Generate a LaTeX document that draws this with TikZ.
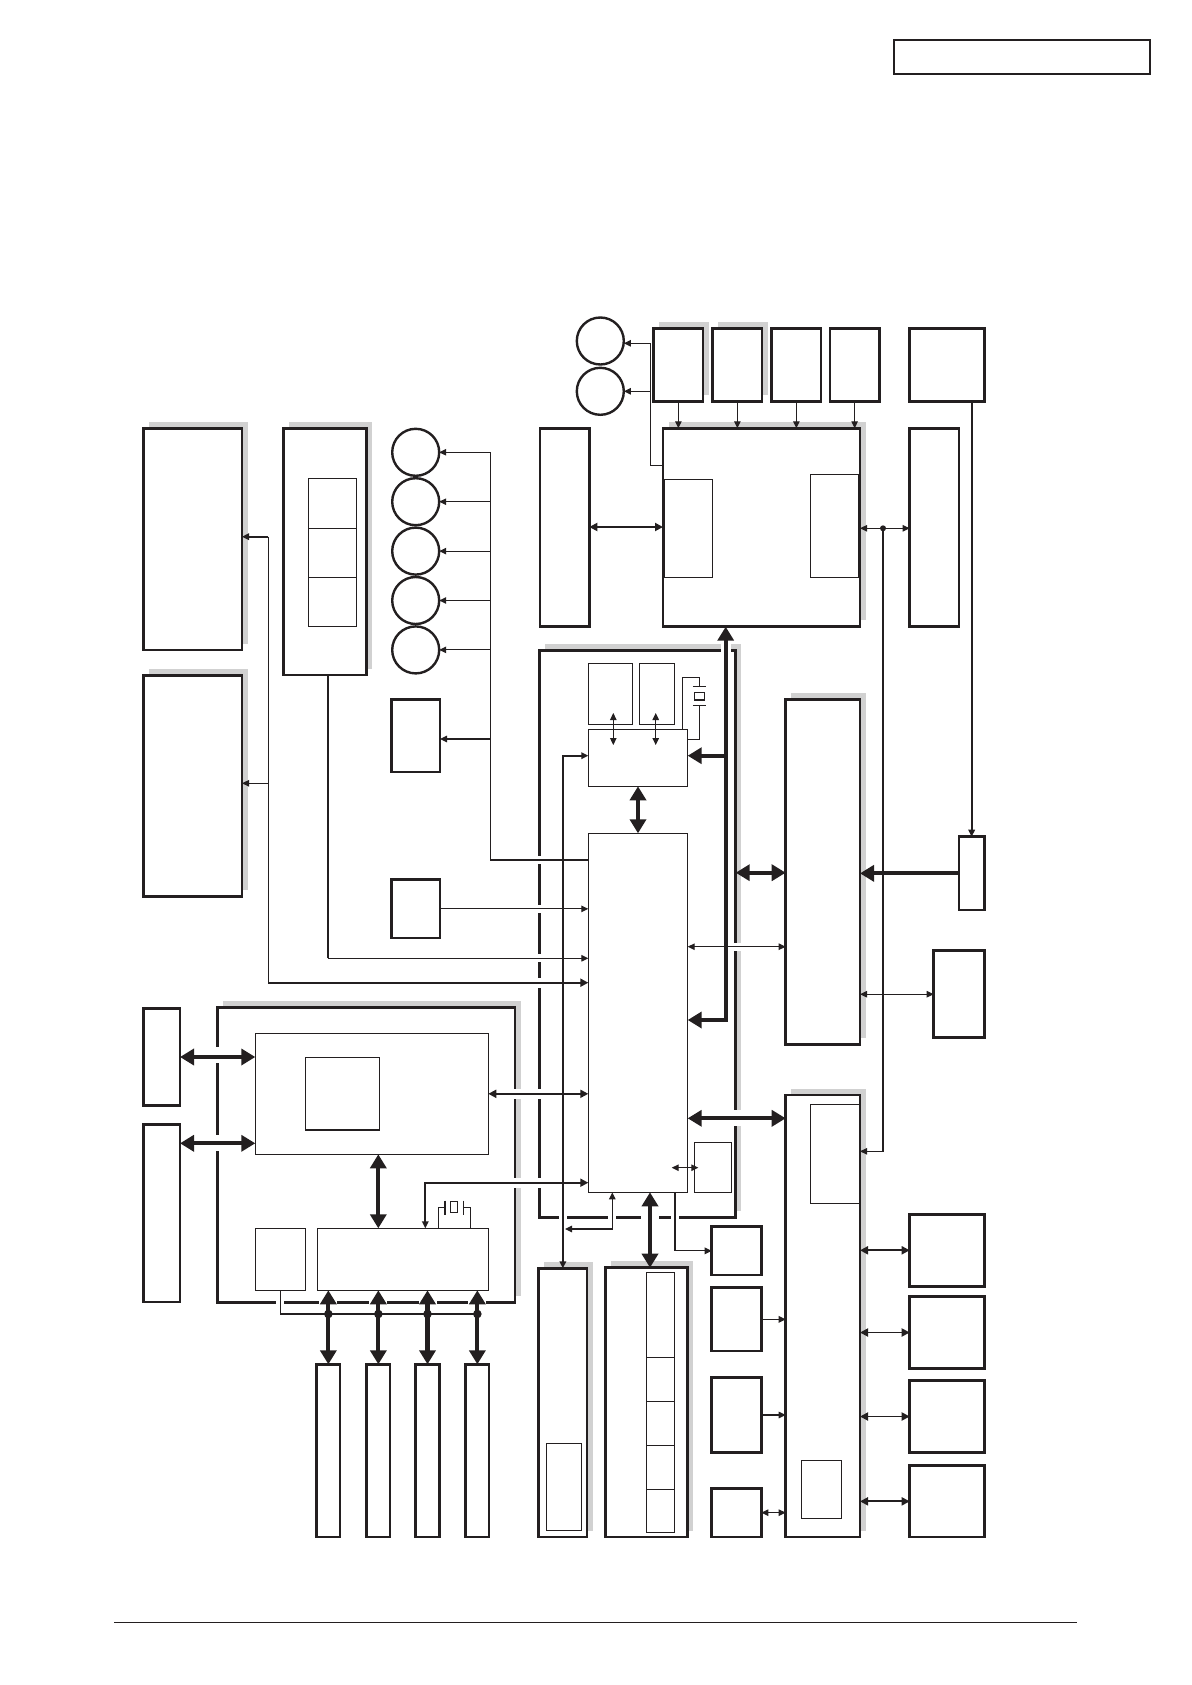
\documentclass[tikz,border=0pt]{standalone}
\usetikzlibrary{arrows.meta}
\definecolor{ink}{HTML}{231F20}
\definecolor{shd}{HTML}{D1D1D1}
\tikzset{
 Ash/.tip={Triangle[length=7pt,width=6.5pt]},
 Amd/.tip={Triangle[length=8pt,width=8pt]},
 Abg/.tip={Triangle[length=14pt,width=16pt]},
 bbox/.style={draw=ink,line width=2.6pt,fill=white,rectangle,inner sep=0pt,outer sep=0pt},
 ibox/.style={draw=ink,line width=1.1pt,fill=white,rectangle,inner sep=0pt,outer sep=0pt},
 cir/.style={draw=ink,line width=2.4pt,fill=white,circle,inner sep=0pt,outer sep=0pt,minimum size=47pt},
 wthin/.style={draw=ink,line width=1.1pt},
 wmed/.style={draw=ink,line width=1.9pt},
 wbig/.style={draw=ink,line width=4.2pt},
}
\newcommand\bx[7][]{\node[#2,#1,minimum width={#6-#4},minimum height={#7-#5}] (#3) at ({(#4+#6)/2},{(#5+#7)/2}) {};}
\newcommand\mkshadow[4]{\fill[shd] ({#1+5.5},{#2-6.5}) rectangle ({#3+5.5},{#4-6.5});}
\newcommand\gp[4]{\fill[white] (#1,#2) rectangle (#3,#4);}
\begin{document}
\begin{tikzpicture}[x=1pt,y=-1pt]
\useasboundingbox (0,0) rectangle (1191,1685);
% header and footer
\bx[line width=1.5pt]{bbox}{hdr}{894}{40}{1150}{74}
\draw[ink,line width=1.2pt] (114,1622.7) -- (1077,1622.7);
% shadows
\mkshadow{143.7}{428.3}{242}{650}
\mkshadow{143.7}{675.7}{242}{896.7}
\mkshadow{283.7}{428.3}{366.3}{675}
\mkshadow{653.7}{328.7}{703}{401.7}
\mkshadow{712.7}{328.7}{762}{401.7}
\mkshadow{663}{428.3}{860}{626.7}
\mkshadow{539.3}{650.7}{735.7}{1217.7}
\mkshadow{785.7}{699.3}{860}{1044.3}
\mkshadow{785.7}{1095}{860}{1537}
\mkshadow{538.7}{1268.3}{587}{1537}
\mkshadow{605.7}{1267.7}{687.7}{1537}
\mkshadow{217.7}{1007.7}{515}{1302.7}
% outer boxes
\bx{bbox}{L1}{143.7}{428.3}{242}{650}
\bx{bbox}{L2}{143.7}{675.7}{242}{896.7}
\bx{bbox}{L3}{283.7}{428.3}{366.3}{675}
\bx{bbox}{p4}{391.7}{699.3}{440}{772}
\bx{bbox}{p5}{391.7}{879.7}{440}{938}
\bx{bbox}{tA}{653.7}{328.7}{703}{401.7}
\bx{bbox}{tB}{712.7}{328.7}{762}{401.7}
\bx{bbox}{tC}{771.7}{328.7}{821}{401.7}
\bx{bbox}{tD}{830}{328.7}{879.3}{401.7}
\bx{bbox}{tE}{909.7}{328.7}{984.3}{401.7}
\bx{bbox}{big}{663}{428.3}{860}{626.7}
\bx{bbox}{lb}{540}{428.3}{589.3}{626.7}
\bx{bbox}{rb}{909.7}{428.3}{959}{626.7}
\bx{bbox}{C}{539.3}{650.7}{735.7}{1217.7}
\bx{bbox}{I}{785.7}{699.3}{860}{1044.3}
\bx{bbox}{J}{959}{836.7}{984.3}{910}
\bx{bbox}{Kb}{933.7}{950.7}{984.3}{1037.7}
\bx{bbox}{L}{785.7}{1095}{860}{1537}
\bx{bbox}{Z1}{909.7}{1214.3}{984.3}{1286.3}
\bx{bbox}{Z2}{909.7}{1296.7}{984.3}{1368.3}
\bx{bbox}{Z3}{909.7}{1380.7}{984.3}{1452.3}
\bx{bbox}{Z4}{909.7}{1465.7}{984.3}{1537}
\bx{bbox}{V}{711.7}{1226.7}{761.3}{1275}
\bx{bbox}{W}{711.7}{1287.7}{761.3}{1351}
\bx{bbox}{X}{711.7}{1377.7}{761.3}{1452.3}
\bx{bbox}{Y}{711.7}{1488.3}{761.3}{1537}
\bx{bbox}{T}{538.7}{1268.3}{587}{1537}
\bx{bbox}{U}{605.7}{1267.7}{687.7}{1537}
\bx{bbox}{D}{217.7}{1007.7}{515}{1302.7}
\bx{bbox}{N}{143.7}{1008.3}{180}{1105.7}
\bx{bbox}{O}{143.7}{1124.3}{180}{1302}
\bx{bbox}{s1}{316.7}{1364.3}{340}{1537}
\bx{bbox}{s2}{366.7}{1364.3}{390}{1537}
\bx{bbox}{s3}{415.7}{1364.3}{439.3}{1537}
\bx{bbox}{s4}{465.7}{1364.3}{489}{1537}
% inner boxes
\bx{ibox}{L3a}{308.3}{478.3}{356.7}{528.3}
\bx{ibox}{L3b}{308.3}{528.3}{356.7}{577.3}
\bx{ibox}{L3c}{308.3}{577.3}{356.7}{626.3}
\bx{ibox}{bigL}{664.7}{479.3}{712.3}{577.3}
\bx{ibox}{bigR}{810.3}{474.3}{859}{577.3}
\bx{ibox}{G}{588.3}{663.3}{632.3}{724.3}
\bx{ibox}{H}{639.3}{663.3}{674.3}{724.3}
\bx{ibox}{K1}{588.3}{729.3}{687.7}{786.3}
\bx{ibox}{MC}{588.3}{833.3}{687.7}{1192.3}
\bx{ibox}{M}{694.3}{1142.3}{731.7}{1192.3}
\bx{ibox}{Lsa}{810.3}{1104.3}{859.3}{1203.3}
\bx{ibox}{Lsb}{801.3}{1460.3}{841.7}{1518.3}
\bx{ibox}{Tsub}{546.3}{1443.3}{581.3}{1530.3}
\bx{ibox}{Uc1}{646.3}{1272.3}{674.7}{1357.3}
\bx{ibox}{Uc2}{646.3}{1357.3}{674.7}{1401.3}
\bx{ibox}{Uc3}{646.3}{1401.3}{674.7}{1445.3}
\bx{ibox}{Uc4}{646.3}{1445.3}{674.7}{1489.3}
\bx{ibox}{Uc5}{646.3}{1489.3}{674.7}{1532.3}
\bx{ibox}{P}{255.3}{1033.3}{488.3}{1154.3}
\bx{ibox}{Q}{305.3}{1057.3}{379.3}{1130}
\bx{ibox}{R}{255.3}{1228.3}{305.3}{1290.3}
\bx{ibox}{S}{317.3}{1228.3}{488.3}{1290.3}
% circles
\node[cir] (c1) at (600.3,341) {};
\node[cir] (c2) at (600.3,391.3) {};
\node[cir] (m1) at (415.7,452.3) {};
\node[cir] (m2) at (415.7,501.7) {};
\node[cir] (m3) at (415.7,551.1) {};
\node[cir] (m4) at (415.7,600.5) {};
\node[cir] (m5) at (415.7,649.9) {};
% gaps where connectors cross box edges
\gp{537}{856}{541.6}{864}
\gp{537}{905.3}{541.6}{913.3}
\gp{537}{954.3}{541.6}{962.3}
\gp{537}{977.7}{541.6}{987.7}
\gp{537}{1089}{541.6}{1099}
\gp{537}{1177.7}{541.6}{1187.7}
\gp{733.4}{942.7}{742}{950.7}
\gp{733.4}{1110.3}{742}{1126.3}
\gp{721}{643}{730.5}{653}
\gp{559.3}{1215.4}{567.3}{1220}
\gp{608.3}{1215.4}{616.3}{1220}
\gp{641}{1215.4}{659}{1220}
\gp{671}{1215.4}{679}{1220}
\gp{215.4}{1047}{220}{1063}
\gp{215.4}{1135.3}{220}{1151.3}
\gp{512.7}{1089}{521.5}{1099}
\gp{512.7}{1177.7}{521.5}{1187.7}
\gp{276.3}{1300.4}{284.3}{1305}
\gp{319.3}{1300.4}{337.3}{1305}
\gp{369.3}{1300.4}{387.3}{1305}
\gp{418.5}{1300.4}{436.5}{1305}
\gp{468.3}{1300.4}{486.3}{1305}
% top connectors
\foreach \b in {tA,tB,tC,tD} \draw[wthin,-Ash] (\b.south) -- (\b.south |- big.north);
\draw[wthin] (big.west |- 0,465.3) -| (650.3,343.3);
\draw[wthin,-Ash] (650.3,343.3) -- (c1.east |- 0,343.3);
\draw[wthin,-Ash] (650.3,0 |- c2.east) -- (c2.east);
\draw[wmed,Amd-Amd] (lb.east |- 0,527) -- (big.west |- 0,527);
\draw[wthin,Ash-Ash] (big.east |- 0,528.3) -- (rb.west |- 0,528.3);
\draw[wthin,-Ash] (883,528.3) |- (L.east |- 0,1151.3);
\fill[ink] (883,528.3) circle (3pt);
\draw[wmed,-Ash] (tE.south -| J.north) -- (J.north);
\draw[wbig,-Abg] (J.west) -- (I.east |- J.west);
% middle right
\draw[wbig,Abg-Abg] (C.east |- 0,872.7) -- (I.west |- 0,872.7);
\draw[wthin,Ash-Ash] (MC.east |- 0,946.7) -- (I.west |- 0,946.7);
\draw[wthin,Ash-Ash] (I.east |- Kb.west) -- (Kb.west);
\draw[wbig,Abg-Abg] (MC.east |- 0,1118.3) -- (L.west |- 0,1118.3);
\foreach \z in {Z1,Z2,Z3,Z4} \draw[wmed,Amd-Amd] (L.east |- \z.west) -- (\z.west);
\draw[wthin,-Ash] (W.east) -- (L.west |- W.east);
\draw[wthin,-Ash] (X.east) -- (L.west |- X.east);
\draw[wthin,Ash-Ash] (Y.east) -- (L.west |- Y.east);
% central block
\draw[wbig,Abg-Abg] (725.7,0 |- big.south) -- (725.7,1020) -- (MC.east |- 0,1020);
\draw[wbig,-Abg] (725.7,755.7) -- (K1.east |- 0,755.7);
\draw[wbig,Abg-Abg] (K1.south) -- (MC.north);
\draw[wthin,Ash-Ash] (613.3,713) -- (613.3,745);
\draw[wthin,Ash-Ash] (655.7,713) -- (655.7,745);
\draw[wthin,Ash-Ash] (671.7,1167.7) -- (698.3,1167.7);
\draw[wthin] (682.3,0 |- K1.north) -- (682.3,677.7) -- (699.3,677.7) -- (699.3,686.7);
\draw[wthin] (692.8,686.7) -- (705.8,686.7);
\draw[wthin] (694.3,692.3) rectangle (704.3,700);
\draw[wthin] (692.8,705.7) -- (705.8,705.7);
\draw[wthin] (699.3,705.7) -- (699.3,739.3) -- (K1.east |- 0,739.3);
\draw[wmed,Ash-Ash] (K1.west |- 0,755.7) -| (T.north);
\draw[wthin,-Ash] (675,0 |- MC.south) |- (V.west);
\draw[wthin,Ash-Ash] (612.3,0 |- MC.south) |- (565,1229);
\draw[wbig,Abg-Abg] (650,0 |- MC.south) -- (650,0 |- U.north);
% left connectors
\draw[wthin] (MC.west |- 0,860) -| (490.3,452.3);
\foreach \m in {m1,m2,m3,m4,m5} \draw[wthin,-Ash] (490.3,0 |- \m.east) -- (\m.east);
\draw[wthin,-Ash] (490.3,739) -- (p4.east |- 0,739);
\draw[wthin,-Ash] (p5.east) -- (MC.west |- p5.east);
\draw[wmed] (327.7,0 |- L3.south) -- (327.7,958.3);
\draw[wthin,-Ash] (327.7,958.3) -- (MC.west |- 0,958.3);
\draw[wthin] (268.3,536.7) -- (268.3,982.7);
\draw[wmed,-Ash] (268.3,536.7) -- (L1.east |- 0,536.7);
\draw[wthin,-Ash] (268.3,783.3) -- (L2.east |- 0,783.3);
\draw[line width=2.3pt,draw=ink,-Amd] (268.3,982.7) -- (MC.west |- 0,982.7);
% lower left
\draw[wbig,Abg-Abg] (N.east) -- (P.west |- N.east);
\draw[wbig,Abg-Abg] (O.east |- 0,1143.3) -- (P.west |- 0,1143.3);
\draw[wmed,Amd-Amd] (P.east) -- (MC.west |- P.east);
\draw[wbig,Abg-Abg] (378.3,0 |- P.south) -- (378.3,0 |- S.north);
\draw[wmed,Amd-Ash] (MC.west |- 0,1182.7) -| (425.3,0 |- S.north);
\draw[wthin] (438.7,0 |- S.north) -- (438.7,1207.7) -- (445,1207.7);
\draw[wthin] (445,1200.7) -- (445,1214.7);
\draw[wthin] (450.3,1201.7) rectangle (457.7,1212.3);
\draw[wthin] (463.3,1200.7) -- (463.3,1214.7);
\draw[wthin] (463.3,1207.7) -- (470.3,1207.7) -- (470.3,0 |- S.north);
\draw[wthin] (R.south) |- (477.3,1314);
\foreach \s in {s1,s2,s3,s4} {
  \draw[wbig,Abg-Abg] (\s.north |- S.south) -- (\s.north);
  \fill[ink] (\s.north |- 0,1314) circle (4.3pt);
}
\end{tikzpicture}
\end{document}
